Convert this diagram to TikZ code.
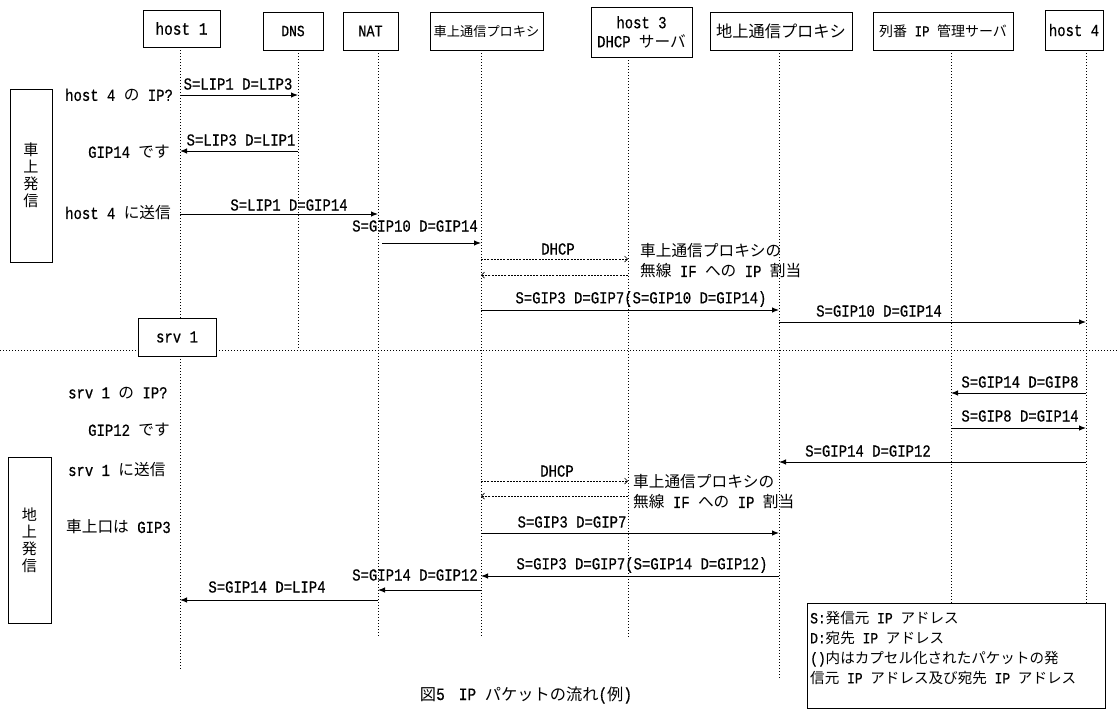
\documentclass[tikz,border=0pt]{standalone}
\usepackage{fontspec}
\setmainfont{Liberation Mono}[Scale=1.2,FakeStretch=0.83,FakeBold=0.6]
\newfontfamily\jpf[Scale=1.12]{Noto Sans CJK JP}
\newcommand\J[1]{{\jpf #1}}
\newcommand\fs[1]{\fontsize{#1}{#1}\selectfont}
\usetikzlibrary{arrows.meta}
\begin{document}
\begin{tikzpicture}[x=1pt,y=-1pt,
  hdr/.style={draw,line width=0.8pt,inner sep=0pt,align=center,fill=white},
  life/.style={line width=0.7pt,dash pattern=on 1pt off 2pt},
  msg/.style={line width=1pt,-{Latex[length=7pt,width=5.5pt]}},
  dmsg/.style={line width=0.7pt,dash pattern=on 2pt off 1.2pt,-{Straight Barb[length=3pt,width=6pt]}},
  lbl/.style={inner sep=0pt,font=\fs{14pt}},
  side/.style={inner sep=0pt,anchor=west,font=\fs{14pt}},
  note/.style={inner sep=0pt,anchor=west,font=\fs{14pt}},
  vbox/.style={draw,line width=0.8pt,inner sep=0pt,align=center,font=\fontsize{13.5pt}{17pt}\selectfont}
]
\useasboundingbox (0,0) rectangle (1117,716);

% lifeline x positions
\coordinate (Lh1) at (180,0);
\coordinate (Ldns) at (298,0);
\coordinate (Lnat) at (378,0);
\coordinate (Lcar) at (481,0);
\coordinate (Lh3) at (628,0);
\coordinate (Lgnd) at (779,0);
\coordinate (Lmgr) at (951,0);
\coordinate (Lh4) at (1086,0);

% header boxes
\node[hdr,minimum width=77pt,minimum height=37pt,font=\fs{14.5pt}] (h1) at (181.5,28.5) {host 1};
\node[hdr,minimum width=60pt,minimum height=38pt,font=\fs{13pt}] (dns) at (293,31) {DNS};
\node[hdr,minimum width=55pt,minimum height=38pt,font=\fs{13.5pt}] (nat) at (370.5,31) {NAT};
\node[hdr,minimum width=113pt,minimum height=38pt,font=\fs{11.8pt}] (car) at (486.5,31) {\J{車上通信プロキシ}};
\node[hdr,minimum width=101pt,minimum height=50pt,font=\fontsize{14pt}{19pt}\selectfont] (h3) at (641.5,32) {host 3\\DHCP \J{サーバ}};
\node[hdr,minimum width=142pt,minimum height=38pt,font=\fs{14.5pt}] (gnd) at (781,31) {\J{地上通信プロキシ}};
\node[hdr,minimum width=140pt,minimum height=38pt,font=\fs{12.5pt}] (mgr) at (943,31) {\J{列番} IP \J{管理サーバ}};
\node[hdr,minimum width=58pt,minimum height=40pt,font=\fs{14pt}] (h4) at (1074,30) {host 4};

% lifelines
\draw[life] (Lh1 |- h1.south) -- (Lh1 |- 0,670);
\draw[life] (Ldns |- dns.south) -- (Ldns |- 0,350);
\draw[life] (Lnat |- nat.south) -- (Lnat |- 0,637);
\draw[life] (Lcar |- car.south) -- (Lcar |- 0,637);
\draw[life] (Lh3 |- h3.south) -- (Lh3 |- 0,637);
\draw[life] (Lgnd |- gnd.south) -- (Lgnd |- 0,680);
\draw[life] (Lmgr |- mgr.south) -- (Lmgr |- 0,603);
\draw[life] (Lh4 |- h4.south) -- (Lh4 |- 0,603);

% separator and srv 1
\draw[life] (0,350) -- (1117,350);
\node[hdr,minimum width=78pt,minimum height=38pt,font=\fs{14pt}] (srv) at (177,337) {srv 1};

% side boxes
\node[vbox,minimum width=42pt,minimum height=173pt] (sideA) at (31,175.5) {\J{車}\\\J{上}\\\J{発}\\\J{信}};
\node[vbox,minimum width=43pt,minimum height=166pt] (sideB) at (29.5,540) {\J{地}\\\J{上}\\\J{発}\\\J{信}};

% side labels
\node[side] (s1) at (65,95) {host 4 \J{の} IP?};
\node[side] (s2) at (88,152) {GIP14 \J{です}};
\node[side] (s3) at (65,213) {host 4 \J{に送信}};
\node[side] (s4) at (68,393) {srv 1 \J{の} IP?};
\node[side] (s5) at (88,430) {GIP12 \J{です}};
\node[side] (s6) at (68,470) {srv 1 \J{に送信}};
\node[side] (s7) at (66,527) {\J{車上口は} GIP3};

% messages: vehicle-originated
\draw[msg] (Lh1 |- 0,95) -- (Ldns |- 0,95);
\node[lbl] (m1) at (238,84) {S=LIP1 D=LIP3};
\draw[msg] (Ldns |- 0,151) -- (Lh1 |- 0,151);
\node[lbl] (m2) at (241,140) {S=LIP3 D=LIP1};
\draw[msg] (Lh1 |- 0,214) -- (Lnat |- 0,214);
\node[lbl] (m3) at (289,205) {S=LIP1 D=GIP14};
\draw[msg] ([xshift=4pt]Lnat |- 0,243) -- (Lcar |- 0,243);
\node[lbl] (m4) at (415,226) {S=GIP10 D=GIP14};
\draw[dmsg] (Lcar |- 0,259) -- (Lh3 |- 0,259);
\node[lbl] (m5) at (558,249) {DHCP};
\draw[dmsg] (Lh3 |- 0,275) -- (Lcar |- 0,275);
\node[note] (n1a) at (640,251) {\J{車上通信プロキシの}};
\node[note] (n1b) at (640,271) {\J{無線} IF \J{への} IP \J{割当}};
\draw[msg] (Lcar |- 0,310) -- (Lgnd |- 0,310);
\node[lbl] (m7) at (641,299) {S=GIP3 D=GIP7(S=GIP10 D=GIP14)};
\draw[msg] (Lgnd |- 0,322) -- (Lh4 |- 0,322);
\node[lbl] (m8) at (879,311) {S=GIP10 D=GIP14};

% messages: ground-originated
\draw[msg] (Lh4 |- 0,393) -- (Lmgr |- 0,393);
\node[lbl] (m9) at (1020,382) {S=GIP14 D=GIP8};
\draw[msg] (Lmgr |- 0,428) -- (Lh4 |- 0,428);
\node[lbl] (m10) at (1020,416) {S=GIP8 D=GIP14};
\draw[msg] (Lh4 |- 0,462) -- (Lgnd |- 0,462);
\node[lbl] (m11) at (868,451) {S=GIP14 D=GIP12};
\draw[dmsg] (Lcar |- 0,481) -- (Lh3 |- 0,481);
\node[lbl] (m12) at (557,471) {DHCP};
\draw[dmsg] (Lh3 |- 0,496) -- (Lcar |- 0,496);
\node[note] (n2a) at (633,482) {\J{車上通信プロキシの}};
\node[note] (n2b) at (633,502) {\J{無線} IF \J{への} IP \J{割当}};
\draw[msg] (Lcar |- 0,533) -- (Lgnd |- 0,533);
\node[lbl] (m14) at (572,522) {S=GIP3 D=GIP7};
\draw[msg] (Lgnd |- 0,576) -- (Lcar |- 0,576);
\node[lbl] (m15) at (642,565) {S=GIP3 D=GIP7(S=GIP14 D=GIP12)};
\draw[msg] (Lcar |- 0,590) -- (Lnat |- 0,590);
\node[lbl] (m16) at (415,575) {S=GIP14 D=GIP12};
\draw[msg] (Lnat |- 0,600) -- (Lh1 |- 0,600);
\node[lbl] (m17) at (267,587) {S=GIP14 D=LIP4};

% legend
\node[draw,line width=0.8pt,fill=white,minimum width=298pt,minimum height=105pt,inner sep=0pt] (leg) at (956,655.5) {};
\node[anchor=north west,inner sep=0pt,align=left,font=\fontsize{13pt}{20pt}\selectfont] (legt) at (810,611)
  {S:\J{発信元} IP \J{アドレス}\\D:\J{宛先} IP \J{アドレス}\\()\J{内はカプセル化されたパケットの発}\\\J{信元} IP \J{アドレス及び宛先} IP \J{アドレス}};

% caption
\node[inner sep=0pt,font=\fs{14.5pt}] (cap) at (526,695) {\J{図}5\hspace{14pt}IP \J{パケットの流れ}(\J{例})};
\end{tikzpicture}
\end{document}
